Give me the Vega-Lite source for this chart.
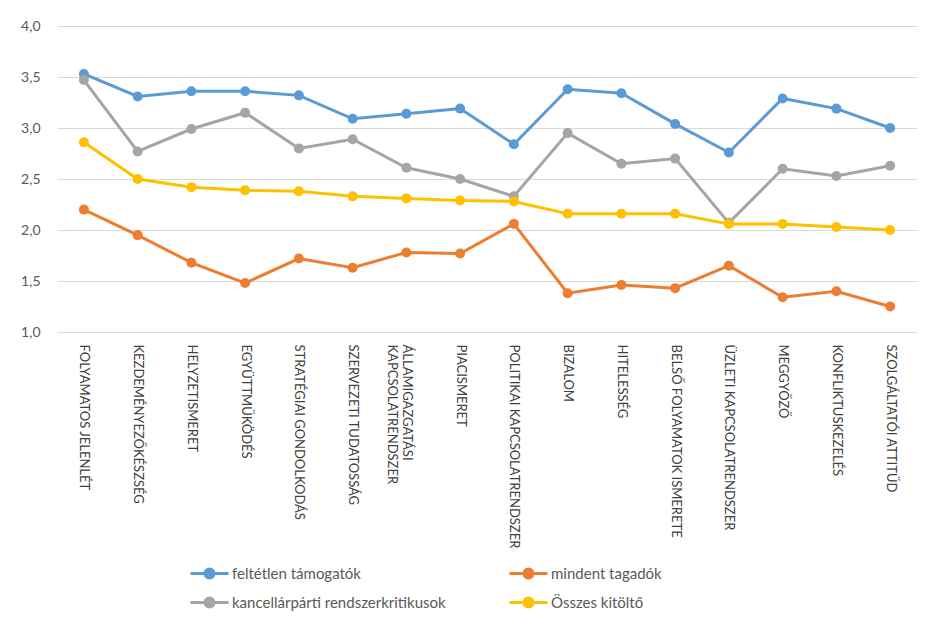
{
  "$schema": "https://vega.github.io/schema/vega-lite/v6.json",
  "width": 860,
  "height": 306,
  "autosize": {"type": "none"},
  "padding": {"left": 57, "top": 26, "right": 17, "bottom": 297},
  "background": "white",
  "config": {"view": {"stroke": null}, "font": "Lato"},
  "datasets": {
    "raw": [
      {"cat": "FOLYAMATOS JELENLÉT", "a": 3.53, "b": 2.20, "c": 3.47, "d": 2.86},
      {"cat": "KEZDEMÉNYEZŐKÉSZSÉG", "a": 3.31, "b": 1.95, "c": 2.77, "d": 2.50},
      {"cat": "HELYZETISMERET", "a": 3.36, "b": 1.68, "c": 2.99, "d": 2.42},
      {"cat": "EGYÜTTMŰKÖDÉS", "a": 3.36, "b": 1.48, "c": 3.15, "d": 2.39},
      {"cat": "STRATÉGIAI GONDOLKODÁS", "a": 3.32, "b": 1.72, "c": 2.80, "d": 2.38},
      {"cat": "SZERVEZETI TUDATOSSÁG", "a": 3.09, "b": 1.63, "c": 2.89, "d": 2.33},
      {"cat": "ÁLLAMIGAZGATÁSI KAPCSOLATRENDSZER", "a": 3.14, "b": 1.78, "c": 2.61, "d": 2.31},
      {"cat": "PIACISMERET", "a": 3.19, "b": 1.77, "c": 2.50, "d": 2.29},
      {"cat": "POLITIKAI KAPCSOLATRENDSZER", "a": 2.84, "b": 2.06, "c": 2.33, "d": 2.28},
      {"cat": "BIZALOM", "a": 3.38, "b": 1.38, "c": 2.95, "d": 2.16},
      {"cat": "HITELESSÉG", "a": 3.34, "b": 1.46, "c": 2.65, "d": 2.16},
      {"cat": "BELSŐ FOLYAMATOK ISMERETE", "a": 3.04, "b": 1.43, "c": 2.70, "d": 2.16},
      {"cat": "ÜZLETI KAPCSOLATRENDSZER", "a": 2.76, "b": 1.65, "c": 2.07, "d": 2.06},
      {"cat": "MEGGYŐZŐ", "a": 3.29, "b": 1.34, "c": 2.60, "d": 2.06},
      {"cat": "KONFLIKTUSKEZELÉS", "a": 3.19, "b": 1.40, "c": 2.53, "d": 2.03},
      {"cat": "SZOLGÁLTATÓI ATTITŰD", "a": 3.00, "b": 1.25, "c": 2.63, "d": 2.00}
    ]
  },
  "data": {"name": "raw"},
  "transform": [
    {"fold": ["a", "b", "c", "d"], "as": ["key", "value"]},
    {"lookup": "key", "from": {"data": {"values": [
      {"key": "a", "series": "feltétlen támogatók"},
      {"key": "b", "series": "mindent tagadók"},
      {"key": "c", "series": "kancellárpárti rendszerkritikusok"},
      {"key": "d", "series": "Összes kitöltő"}
    ]}, "key": "key", "fields": ["series"]}}
  ],
  "mark": {"type": "line", "strokeWidth": 3, "point": {"filled": true, "size": 100, "opacity": 1}},
  "encoding": {
    "x": {
      "field": "cat", "type": "nominal", "sort": null,
      "axis": {
        "title": null, "domain": false, "ticks": false, "grid": false,
        "labelAngle": 90, "labelAlign": "left", "labelBaseline": "middle",
        "labelFontSize": 13, "labelColor": "#404040", "labelPadding": 12, "labelLimit": 300,
        "labelExpr": "datum.label == 'ÁLLAMIGAZGATÁSI KAPCSOLATRENDSZER' ? ['ÁLLAMIGAZGATÁSI', 'KAPCSOLATRENDSZER'] : datum.label"
      }
    },
    "y": {
      "field": "value", "type": "quantitative",
      "scale": {"domain": [1, 4], "nice": false, "zero": false},
      "axis": {
        "title": null, "domain": false, "ticks": false,
        "values": [1, 1.5, 2, 2.5, 3, 3.5, 4],
        "gridColor": "#d9d9d9", "gridWidth": 1,
        "labelFontSize": 14, "labelColor": "#595959", "labelPadding": 17,
        "labelExpr": "replace(format(datum.value, '.1f'), '.', ',')"
      }
    },
    "color": {
      "field": "series", "type": "nominal",
      "scale": {
        "domain": ["feltétlen támogatók", "mindent tagadók", "kancellárpárti rendszerkritikusok", "Összes kitöltő"],
        "range": ["#5B9BD5", "#ED7D31", "#A5A5A5", "#FFC000"]
      },
      "legend": {
        "title": null, "orient": "none", "legendX": 141, "legendY": 536,
        "direction": "horizontal",
        "columns": 2, "columnPadding": 57, "rowPadding": 7,
        "symbolType": "M-1.9,0H1.9M-0.45,0a0.45,0.45 0 1,0 0.9,0a0.45,0.45 0 1,0 -0.9,0",
        "symbolSize": 400, "symbolStrokeWidth": 3, "labelOffset": 11,
        "labelFontSize": 15, "labelColor": "#595959", "labelLimit": 400,
        "encode": {"symbols": {"update": {"fill": {"scale": "color", "field": "value"}, "opacity": {"value": 1}}}}
      }
    }
  }
}
